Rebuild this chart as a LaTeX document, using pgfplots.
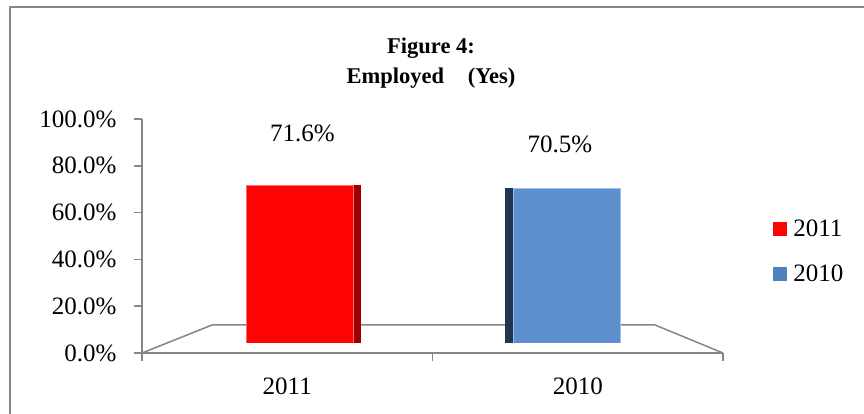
\documentclass[border=0pt]{standalone}
\usepackage{pgfplots}
\pgfplotsset{compat=1.18}
\usepackage{fontspec}
\setmainfont{Liberation Serif}
\definecolor{barred}{HTML}{FE0303}
\definecolor{edgered}{HTML}{FF6A6A}
\definecolor{sidered}{HTML}{A20000}
\definecolor{barblue}{HTML}{5D8FCF}
\definecolor{edgeblue}{HTML}{9FC0E8}
\definecolor{sideblue}{HTML}{1F3552}
\definecolor{legblue}{HTML}{4F81BD}
\definecolor{axgray}{HTML}{868686}
\begin{document}
\begin{tikzpicture}[x=1pt,y=1pt]
\path[use as bounding box] (0,0) rectangle (864,414);
\draw[axgray, line width=2pt] (9.5,0) -- (9.5,407.3) -- (864,407.3);
\node[anchor=base, font=\bfseries\fontsize{22.5}{26}\selectfont, inner sep=0pt] at (431,360) {Figure 4:};
\node[anchor=base, font=\bfseries\fontsize{22.5}{26}\selectfont, inner sep=0pt] at (431,330) {Employed\hspace{18pt} (Yes)};
\begin{axis}[
  at={(142pt,61pt)}, anchor=south west,
  scale only axis, width=581pt, height=234pt,
  xmin=-0.5, xmax=1.5, ymin=0, ymax=100,
  axis lines=left, axis line style={-, axgray, line width=1.6pt},
  clip=false, axis on top,
  ytick={0,20,40,60,80,100},
  yticklabels={0.0\%,20.0\%,40.0\%,60.0\%,80.0\%,100.0\%},
  xtick={0,1}, xticklabels={2011,2010},
  minor xtick={-0.5,0.5,1.5},
  tick align=outside, major tick length=8pt, minor tick length=8pt,
  tick style={axgray, line width=1.6pt},
  every major x tick/.append style={draw=none},
  ticklabel style={font=\fontsize{25}{29}\selectfont},
  yticklabel style={xshift=-14pt},
  xticklabel style={yshift=-13pt},
  legend image code/.code={\fill[#1, draw=none] (0pt,-7pt) rectangle (14pt,7pt);},
  legend style={at={(1.081,0.435)}, anchor=west, draw=none, fill=none,
    font=\fontsize{25}{29}\selectfont, row sep=25pt, nodes={inner sep=1pt},
    /tikz/every odd column/.append style={column sep=5pt}},
  legend cell align=left,
]
\draw[axgray, line width=1.5pt] (axis cs:-0.5,0) -- (axis cs:-0.259,11.97) -- (axis cs:1.266,11.97) -- (axis cs:1.5,0);
\addplot[ybar, bar width=8pt, bar shift=69.75pt, fill=sidered, draw=none, forget plot] coordinates {(0,71.6)};
\addplot[ybar, bar width=8.5pt, bar shift=-68.5pt, fill=sideblue, draw=none, forget plot] coordinates {(1,70.5)};
\addplot[ybar, bar width=107pt, bar shift=12.25pt, fill=barred, draw=edgered, line width=0.8pt, forget plot,
  point meta=explicit symbolic, nodes near coords,
  every node near coord/.append style={anchor=center, yshift=52pt, xshift=15.25pt, text=black, font=\fontsize{25}{29}\selectfont}]
  coordinates {(0,71.6) [71.6\%]};
\addplot[ybar, bar width=106.5pt, bar shift=-11pt, fill=barblue, draw=edgeblue, line width=0.8pt, forget plot,
  point meta=explicit symbolic, nodes near coords,
  every node near coord/.append style={anchor=center, yshift=44pt, xshift=-17.75pt, text=black, font=\fontsize{25}{29}\selectfont}]
  coordinates {(1,70.5) [70.5\%]};
\fill[white] (axis cs:-0.163,-0.6) rectangle (axis cs:1.18,4.27);
\addlegendimage{fill=barred}\addlegendentry{2011}
\addlegendimage{fill=legblue}\addlegendentry{2010}
\end{axis}
\end{tikzpicture}
\end{document}
